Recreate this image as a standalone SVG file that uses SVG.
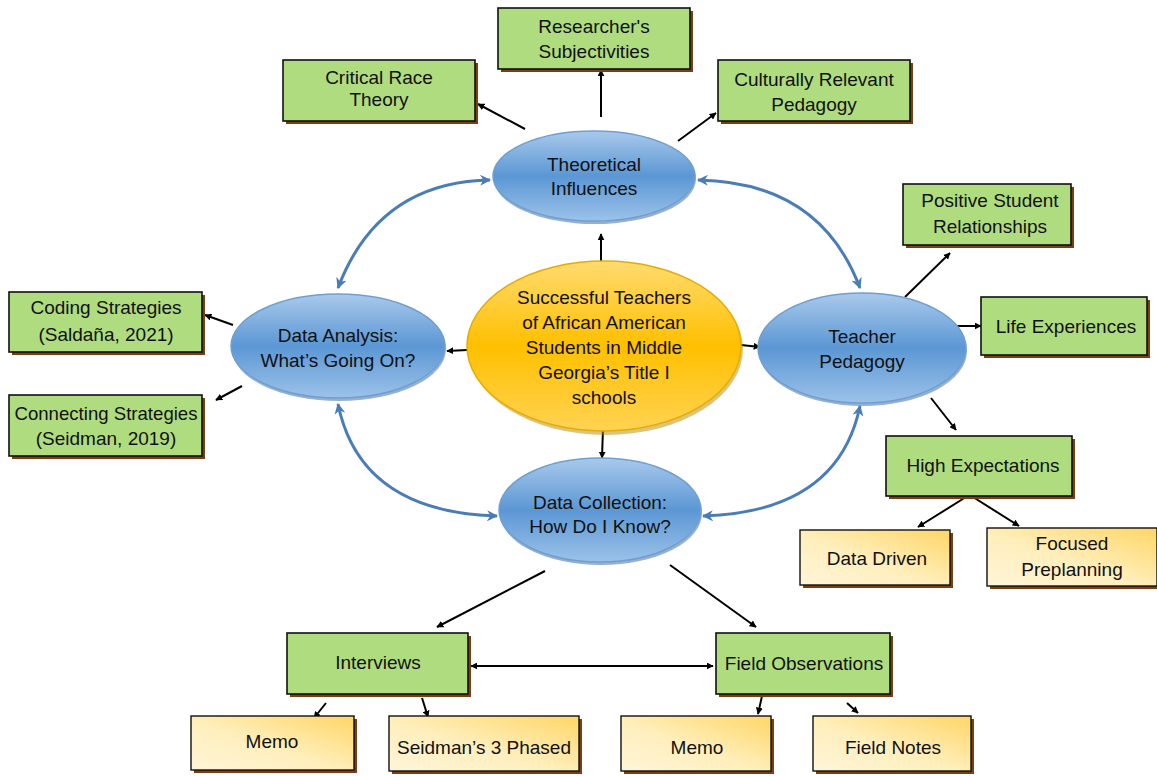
<svg xmlns="http://www.w3.org/2000/svg" width="1157" height="776" viewBox="0 0 1157 776">
  <defs>
    <linearGradient id="blueFill" x1="0" y1="0" x2="0" y2="1">
      <stop offset="0" stop-color="#a9c9ec"/>
      <stop offset="0.5" stop-color="#5b97d4"/>
      <stop offset="1" stop-color="#9cc2e9"/>
    </linearGradient>
    <linearGradient id="goldFill" x1="0" y1="0" x2="0" y2="1">
      <stop offset="0" stop-color="#ffdb70"/>
      <stop offset="0.5" stop-color="#ffc000"/>
      <stop offset="1" stop-color="#ffd353"/>
    </linearGradient>
    <linearGradient id="creamFill" x1="1" y1="0" x2="0" y2="1">
      <stop offset="0" stop-color="#ffd666"/>
      <stop offset="0.55" stop-color="#ffefbd"/>
      <stop offset="1" stop-color="#fff5d8"/>
    </linearGradient>
    <marker id="ah" viewBox="0 0 10 10" refX="9" refY="5" markerWidth="7" markerHeight="7" markerUnits="userSpaceOnUse" orient="auto-start-reverse">
      <path d="M0,0 L10,5 L0,10 z" fill="#000"/>
    </marker>
    <marker id="bh" viewBox="0 0 10 10" refX="9" refY="5" markerWidth="11" markerHeight="11" markerUnits="userSpaceOnUse" orient="auto-start-reverse">
      <path d="M0,0 L10,5 L0,10 L3,5 z" fill="#4a7db5"/>
    </marker>
  </defs>
  <style>
    text { font-family: "Liberation Sans", Arial, sans-serif; font-size: 19px; fill: #111; text-anchor: middle; }
    .box { fill: #afdc7f; stroke: #111; stroke-width: 1.6; }
    .note { fill: url(#creamFill); stroke: #111; stroke-width: 1.4; }
    .shadow { fill: #7b3d12; }
    .blue { fill: url(#blueFill); stroke: #6f9fd1; stroke-width: 1.5; }
    .blueShadow { fill: #3f6fa5; opacity: 0.55; }
    .gold { fill: url(#goldFill); stroke: #e6ac00; stroke-width: 1.5; }
    .goldShadow { fill: #b98a00; opacity: 0.5; }
    .link { stroke: #000; stroke-width: 2; fill: none; marker-end: url(#ah); }
    .both { stroke: #000; stroke-width: 2; fill: none; marker-start: url(#ah); marker-end: url(#ah); }
    .cycle { stroke: #4a7db5; stroke-width: 3; fill: none; marker-start: url(#bh); marker-end: url(#bh); }
  </style>

  <!-- connectors -->
  <g id="connectors">
    <path class="cycle" d="M490,180 Q378,182 338,288"/>
    <path class="cycle" d="M698,180 Q820,182 860,288"/>
    <path class="cycle" d="M338,404 Q360,512 497,516"/>
    <path class="cycle" d="M860,406 Q838,512 703,516"/>

    <line class="link" x1="525" y1="129" x2="478" y2="104"/>
    <line class="link" x1="601" y1="117" x2="601" y2="70"/>
    <line class="link" x1="678" y1="141" x2="716" y2="113"/>

    <line class="link" x1="601" y1="261" x2="601" y2="234"/>
    <line class="link" x1="467" y1="350" x2="447" y2="351"/>
    <line class="link" x1="741" y1="345" x2="760" y2="347"/>
    <line class="link" x1="603" y1="428" x2="602" y2="458"/>

    <line class="link" x1="233" y1="325" x2="205" y2="315"/>
    <line class="link" x1="242" y1="386" x2="216" y2="400"/>

    <line class="link" x1="905" y1="297" x2="950" y2="253"/>
    <line class="link" x1="956" y1="326" x2="981" y2="326"/>
    <line class="link" x1="931" y1="398" x2="956" y2="430"/>

    <line class="link" x1="966" y1="497" x2="918" y2="527"/>
    <line class="link" x1="973" y1="497" x2="1019" y2="526"/>

    <line class="link" x1="545" y1="571" x2="437" y2="627"/>
    <line class="link" x1="670" y1="565" x2="756" y2="627"/>
    <line class="both" x1="471" y1="666" x2="713" y2="666"/>

    <line class="link" x1="326" y1="703" x2="314" y2="718"/>
    <line class="link" x1="422" y1="698" x2="428" y2="717"/>
    <line class="link" x1="762" y1="696" x2="758" y2="714"/>
    <line class="link" x1="847" y1="703" x2="858" y2="713"/>
  </g>

  <!-- central topic -->
  <g id="center">
    <ellipse class="goldShadow" cx="606" cy="349" rx="137" ry="86"/>
    <ellipse class="gold" cx="604" cy="346" rx="137" ry="85"/>
    <text x="604" y="304">Successful Teachers</text>
    <text x="604" y="329">of African American</text>
    <text x="604" y="354">Students in Middle</text>
    <text x="604" y="379">Georgia’s Title I</text>
    <text x="604" y="404">schools</text>
  </g>

  <!-- blue cycle nodes -->
  <g id="theoretical">
    <ellipse class="blueShadow" cx="595" cy="179" rx="101" ry="45"/>
    <ellipse class="blue" cx="594" cy="176" rx="101" ry="45"/>
    <text x="594" y="171">Theoretical</text>
    <text x="594" y="195">Influences</text>
  </g>
  <g id="analysis">
    <ellipse class="blueShadow" cx="339" cy="349" rx="107" ry="52"/>
    <ellipse class="blue" cx="338" cy="346" rx="107" ry="52"/>
    <text x="338" y="342">Data Analysis:</text>
    <text x="338" y="367">What’s Going On?</text>
  </g>
  <g id="pedagogy">
    <ellipse class="blueShadow" cx="863" cy="351" rx="104" ry="55"/>
    <ellipse class="blue" cx="862" cy="348" rx="104" ry="55"/>
    <text x="862" y="343">Teacher</text>
    <text x="862" y="368">Pedagogy</text>
  </g>
  <g id="collection">
    <ellipse class="blueShadow" cx="601" cy="513" rx="101" ry="52"/>
    <ellipse class="blue" cx="600" cy="510" rx="101" ry="52"/>
    <text x="600" y="509">Data Collection:</text>
    <text x="600" y="533">How Do I Know?</text>
  </g>

  <!-- theoretical influences -->
  <g id="subjectivities">
    <rect class="shadow" x="501" y="11" width="192" height="61"/>
    <rect class="box" x="498" y="8" width="192" height="61"/>
    <text x="594" y="33">Researcher's</text>
    <text x="594" y="58">Subjectivities</text>
  </g>
  <g id="crt">
    <rect class="shadow" x="286" y="63" width="192" height="61"/>
    <rect class="box" x="283" y="60" width="192" height="61"/>
    <text x="379" y="84">Critical Race</text>
    <text x="379" y="106">Theory</text>
  </g>
  <g id="crp">
    <rect class="shadow" x="721" y="63" width="192" height="61"/>
    <rect class="box" x="718" y="60" width="192" height="61"/>
    <text x="814" y="86">Culturally Relevant</text>
    <text x="814" y="111">Pedagogy</text>
  </g>

  <!-- teacher pedagogy -->
  <g id="relationships">
    <rect class="shadow" x="906" y="187" width="168" height="61"/>
    <rect class="box" x="903" y="184" width="168" height="61"/>
    <text x="990" y="207">Positive Student</text>
    <text x="990" y="233">Relationships</text>
  </g>
  <g id="life">
    <rect class="shadow" x="984" y="300" width="166" height="58"/>
    <rect class="box" x="981" y="297" width="166" height="58"/>
    <text x="1066" y="333">Life Experiences</text>
  </g>
  <g id="expectations">
    <rect class="shadow" x="889" y="439" width="186" height="60"/>
    <rect class="box" x="886" y="436" width="186" height="60"/>
    <text x="983" y="472">High Expectations</text>
  </g>
  <g id="datadriven">
    <rect class="shadow" x="803" y="533" width="150" height="55"/>
    <rect class="note" x="800" y="530" width="150" height="55"/>
    <text x="877" y="565">Data Driven</text>
  </g>
  <g id="preplanning">
    <rect class="shadow" x="990" y="531" width="170" height="58"/>
    <rect class="note" x="987" y="528" width="170" height="58"/>
    <text x="1072" y="550">Focused</text>
    <text x="1072" y="576">Preplanning</text>
  </g>

  <!-- data analysis -->
  <g id="coding">
    <rect class="shadow" x="12" y="295" width="193" height="60"/>
    <rect class="box" x="9" y="292" width="193" height="60"/>
    <text x="106" y="314">Coding Strategies</text>
    <text x="106" y="341">(Saldaña, 2021)</text>
  </g>
  <g id="connecting">
    <rect class="shadow" x="12" y="398" width="193" height="61"/>
    <rect class="box" x="9" y="395" width="193" height="61"/>
    <text x="106" y="420" textLength="183" lengthAdjust="spacingAndGlyphs">Connecting Strategies</text>
    <text x="106" y="445">(Seidman, 2019)</text>
  </g>

  <!-- data collection -->
  <g id="interviews">
    <rect class="shadow" x="290" y="636" width="181" height="61"/>
    <rect class="box" x="287" y="633" width="181" height="61"/>
    <text x="378" y="669">Interviews</text>
  </g>
  <g id="observations">
    <rect class="shadow" x="719" y="636" width="174" height="61"/>
    <rect class="box" x="716" y="633" width="174" height="61"/>
    <text x="804" y="670">Field Observations</text>
  </g>
  <g id="memo1">
    <rect class="shadow" x="194" y="719" width="163" height="54"/>
    <rect class="note" x="191" y="716" width="163" height="54"/>
    <text x="272" y="748">Memo</text>
  </g>
  <g id="seidman">
    <rect class="shadow" x="392" y="719" width="190" height="55"/>
    <rect class="note" x="389" y="716" width="190" height="55"/>
    <text x="484" y="754">Seidman’s 3 Phased</text>
  </g>
  <g id="memo2">
    <rect class="shadow" x="624" y="719" width="150" height="55"/>
    <rect class="note" x="621" y="716" width="150" height="55"/>
    <text x="697" y="754">Memo</text>
  </g>
  <g id="fieldnotes">
    <rect class="shadow" x="816" y="719" width="158" height="55"/>
    <rect class="note" x="813" y="716" width="158" height="55"/>
    <text x="893" y="754">Field Notes</text>
  </g>
</svg>
